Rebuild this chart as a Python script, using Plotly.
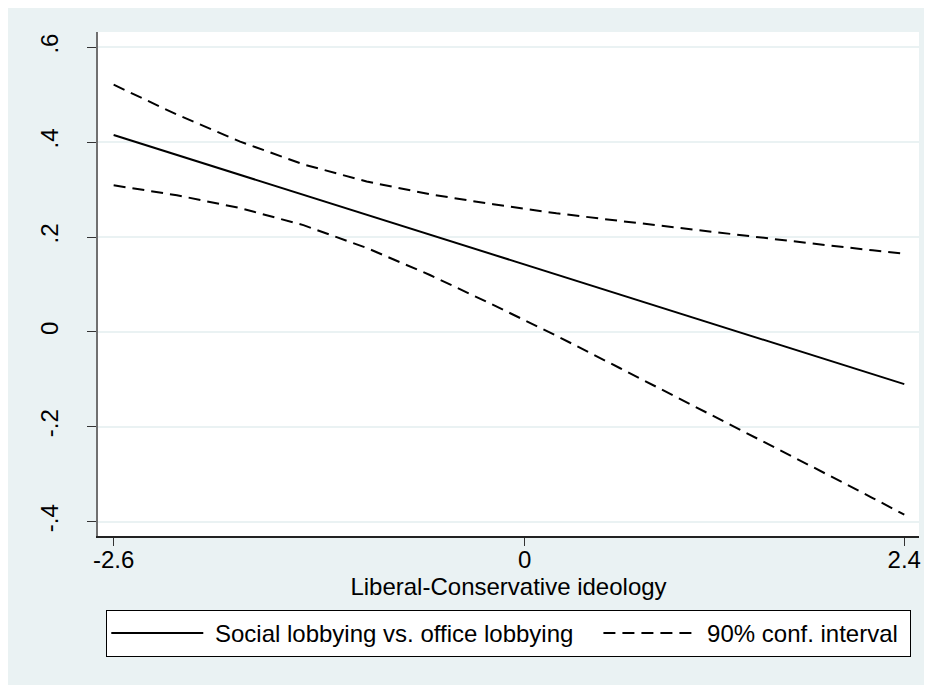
import plotly.graph_objects as go

# Data
ideology = [-2.6, -2.2, -1.8, -1.4, -1.0, -0.6, -0.2, 0.2, 0.6, 1.0, 1.4, 1.8, 2.2, 2.4]
effect = [0.415, 0.373, 0.331, 0.289, 0.247, 0.205, 0.163, 0.121, 0.079, 0.037, -0.005, -0.047, -0.089, -0.110]
ci_upper = [0.521, 0.458, 0.401, 0.353, 0.317, 0.290, 0.269, 0.250, 0.234, 0.218, 0.202, 0.187, 0.172, 0.165]
ci_lower = [0.309, 0.288, 0.261, 0.225, 0.177, 0.120, 0.057, -0.008, -0.076, -0.144, -0.212, -0.281, -0.350, -0.385]

x_ticks = [-2.6, 0, 2.4]
x_ticklabels = ["-2.6", "0", "2.4"]
y_ticks = [-0.4, -0.2, 0, 0.2, 0.4, 0.6]
y_ticklabels = ["-.4", "-.2", "0", ".2", ".4", ".6"]

FONT = "Liberation Sans, Arial, sans-serif"
BG = "#EAF2F3"
FS = 24
NB = "\u00a0"

fig = go.Figure()
fig.add_trace(go.Scatter(
    x=ideology, y=effect, mode="lines",
    name=NB + "Social lobbying vs. office lobbying" + NB * 3,
    line=dict(color="black", width=2),
))
fig.add_trace(go.Scatter(
    x=ideology, y=ci_upper, mode="lines",
    name=NB + "90% conf. interval" + NB, legendgroup="ci",
    line=dict(color="black", width=2, dash="12px,7px"),
))
fig.add_trace(go.Scatter(
    x=ideology, y=ci_lower, mode="lines",
    name="90% conf. interval", legendgroup="ci", showlegend=False,
    line=dict(color="black", width=2, dash="12px,7px"),
))

fig.update_layout(
    width=924, height=677,
    margin=dict(l=90, r=13, t=24, b=149),
    paper_bgcolor=BG, plot_bgcolor="white",
    font=dict(family=FONT, size=FS, color="black"),
    showlegend=True,
    legend=dict(
        orientation="h", x=0.0101, xanchor="left", y=-0.1468, yanchor="top",
        bgcolor="white", bordercolor="black", borderwidth=1,
        font=dict(family=FONT, size=FS, color="black"),
        itemwidth=92,
    ),
)

fig.update_xaxes(
    range=[-2.699, 2.493], tickvals=x_ticks, ticktext=x_ticklabels,
    showgrid=False, zeroline=False,
    showline=True, linecolor="#222222", linewidth=1.5,
    ticks="outside", ticklen=8, tickwidth=1, tickcolor="#333333",
    ticklabelstandoff=-7,
    title=dict(text="Liberal-Conservative ideology", font=dict(family=FONT, size=FS), standoff=1),
)
fig.update_yaxes(
    range=[-0.430, 0.632], tickvals=y_ticks, ticktext=y_ticklabels,
    showgrid=True, gridcolor=BG, gridwidth=2, zeroline=False,
    showline=True, linecolor="#707070", linewidth=2,
    ticks="outside", ticklen=9, tickwidth=1, tickcolor="#333333",
    tickangle=-90, ticklabelstandoff=19,
)

fig.write_html("out.html")
